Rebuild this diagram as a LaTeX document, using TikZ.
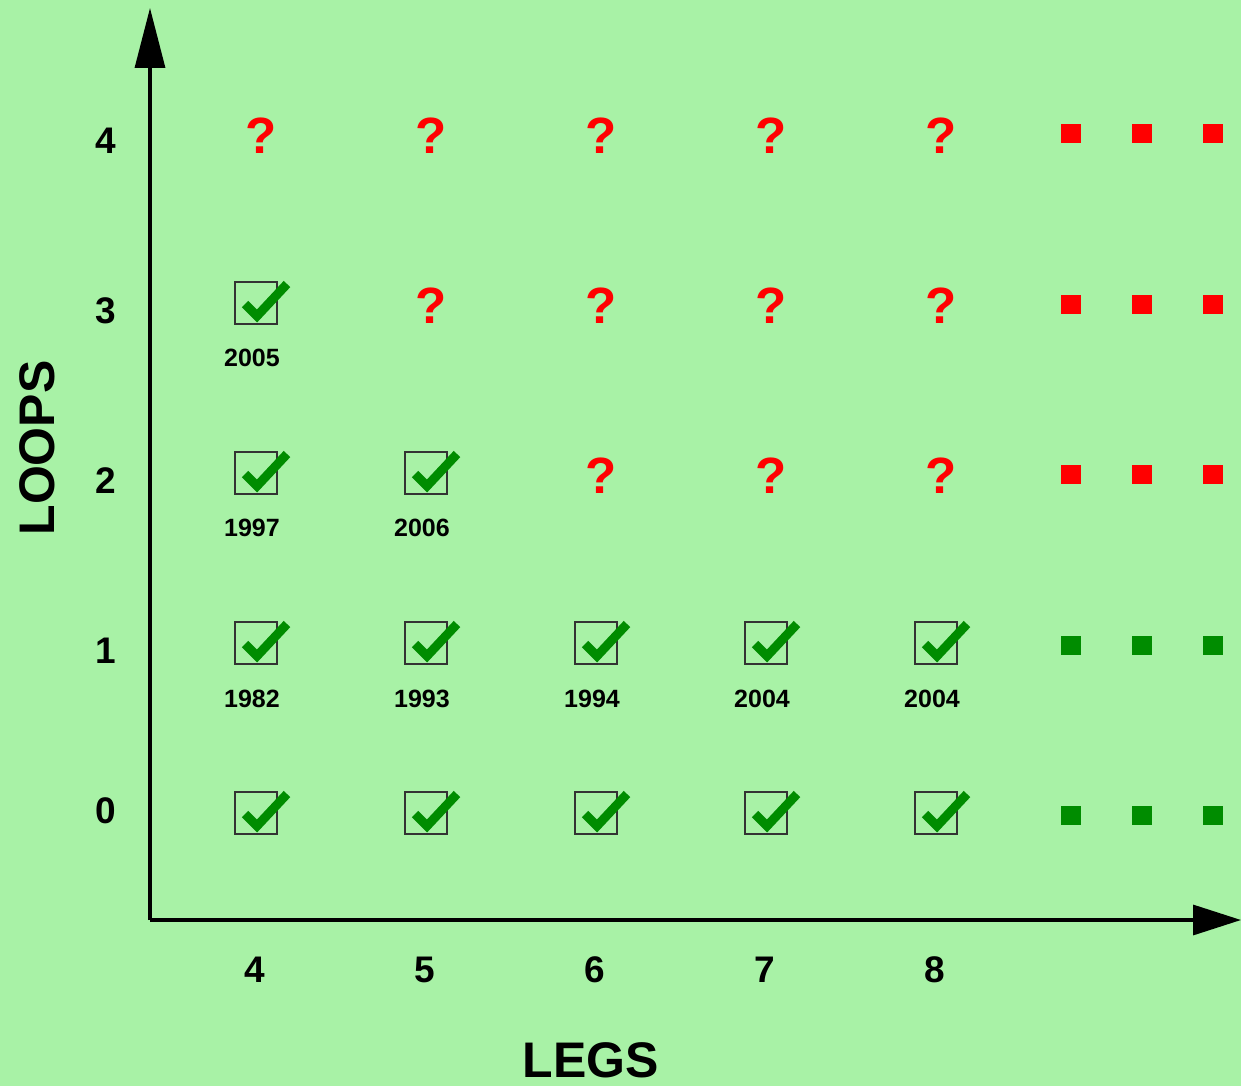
\documentclass[tikz,border=0pt]{standalone}
\usepackage{fontspec}
\setmainfont{Liberation Sans}
\usetikzlibrary{arrows.meta}
\definecolor{bg}{RGB}{168,242,166}
\definecolor{okgreen}{RGB}{0,140,0}
\definecolor{qred}{RGB}{255,0,0}
\tikzset{
  axis/.style={line width=3.3pt},
  ticklab/.style={font=\bfseries\fontsize{37}{44}\selectfont, inner sep=0pt},
  axlab/.style={font=\bfseries\fontsize{50}{60}\selectfont, inner sep=0pt},
  yearlab/.style={font=\bfseries\fontsize{25}{30}\selectfont, inner sep=0pt},
  qmark/.style={font=\bfseries\fontsize{51}{60}\selectfont, text=qred, inner sep=0pt},
  cbox/.style={draw=black!80, line width=1.3pt, minimum width=42pt, minimum height=42pt, inner sep=0pt},
  tick/.style={draw=okgreen, line width=9pt},
  dotr/.style={fill=qred, minimum width=20pt, minimum height=19pt, inner sep=0pt},
  dotg/.style={fill=okgreen, minimum width=20pt, minimum height=19pt, inner sep=0pt},
}
\newcommand{\chkbox}[3]{%
  \node[cbox] (#1) at (#2,#3) {};
  \draw[tick] ([shift={(-11,1)}]#1.center) -- ([shift={(1,13)}]#1.center) -- ([shift={(31,-19)}]#1.center);
}
\begin{document}
\begin{tikzpicture}[x=1pt,y=-1pt]
\fill[bg] (0,0) rectangle (1241,1086);
\useasboundingbox (0,0) rectangle (1241,1086);
% axes
\coordinate (O) at (150,920);
\coordinate (ytip) at (150,8);
\coordinate (xtip) at (1241,920);
\draw[axis,-{Triangle[length=60pt,width=30pt]}] (O) -- (ytip);
\draw[axis,-{Triangle[length=48pt,width=30pt]}] (O) -- (xtip);
% row labels
\node[ticklab] (r4) at (106,141) {4};
\node[ticklab] (r3) at (106,311) {3};
\node[ticklab] (r2) at (106,481) {2};
\node[ticklab] (r1) at (106,651) {1};
\node[ticklab] (r0) at (106,811) {0};
% column labels
\node[ticklab] (c4) at (255,970) {4};
\node[ticklab] (c5) at (425,970) {5};
\node[ticklab] (c6) at (595,970) {6};
\node[ticklab] (c7) at (765,970) {7};
\node[ticklab] (c8) at (935,970) {8};
% axis titles
\node[axlab] (legs) at (591,1060) {LEGS};
\node[axlab, rotate=90] (loops) at (37,448) {LOOPS};
% question marks
\foreach \c/\x in {a/261,b/431,c/601,d/771,e/941}{
  \node[qmark] (q4\c) at (\x,136) {?};
}
\foreach \c/\x in {b/431,c/601,d/771,e/941}{
  \node[qmark] (q3\c) at (\x,306) {?};
}
\foreach \c/\x in {c/601,d/771,e/941}{
  \node[qmark] (q2\c) at (\x,476) {?};
}
% check boxes
\chkbox{k3a}{256}{303}
\chkbox{k2a}{256}{473}
\chkbox{k2b}{426}{473}
\chkbox{k1a}{256}{643}
\chkbox{k1b}{426}{643}
\chkbox{k1c}{596}{643}
\chkbox{k1d}{766}{643}
\chkbox{k1e}{936}{643}
\chkbox{k0a}{256}{813}
\chkbox{k0b}{426}{813}
\chkbox{k0c}{596}{813}
\chkbox{k0d}{766}{813}
\chkbox{k0e}{936}{813}
% years
\node[yearlab] (y3a) at (252,358) {2005};
\node[yearlab] (y2a) at (252,528) {1997};
\node[yearlab] (y2b) at (422,528) {2006};
\node[yearlab] (y1a) at (252,699) {1982};
\node[yearlab] (y1b) at (422,699) {1993};
\node[yearlab] (y1c) at (592,699) {1994};
\node[yearlab] (y1d) at (762,699) {2004};
\node[yearlab] (y1e) at (932,699) {2004};
% continuation squares
\foreach \i/\x in {1/1071,2/1142,3/1213}{
  \node[dotr] (s4\i) at (\x,134) {};
  \node[dotr] (s3\i) at (\x,304) {};
  \node[dotr] (s2\i) at (\x,474) {};
  \node[dotg] (s1\i) at (\x,645) {};
  \node[dotg] (s0\i) at (\x,815) {};
}
\end{tikzpicture}
\end{document}
